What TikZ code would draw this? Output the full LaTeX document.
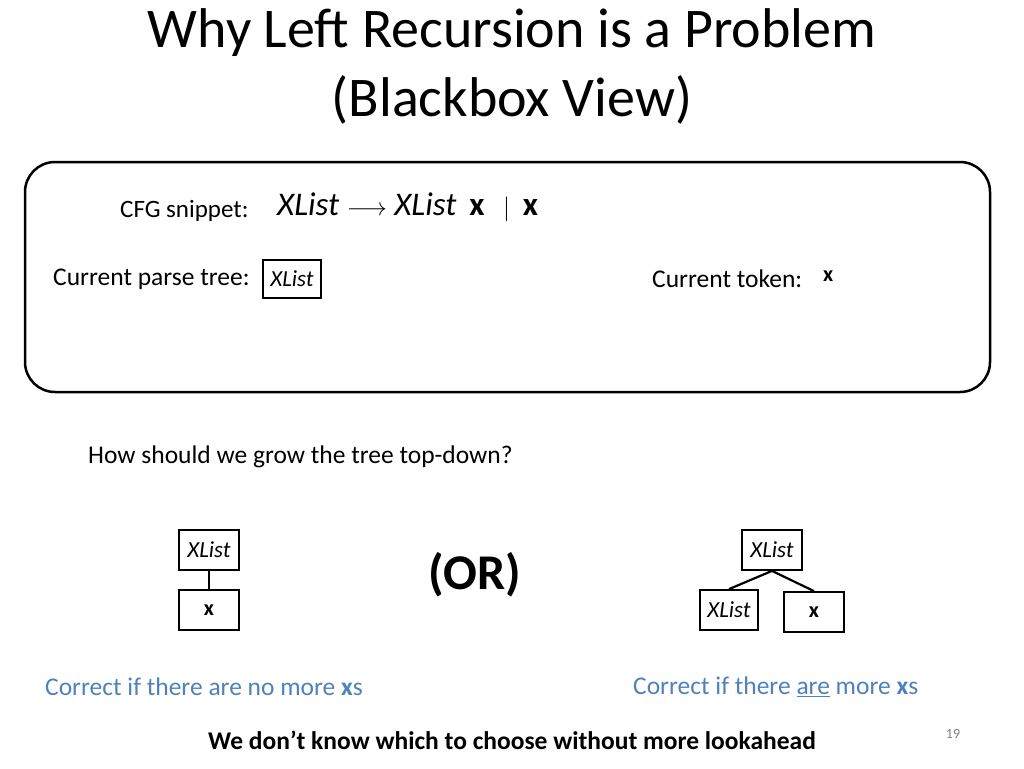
\documentclass[tikz,border=0pt]{standalone}
\usepackage{fontspec}
\setmainfont{Carlito}
\usetikzlibrary{positioning}
\definecolor{noteblue}{RGB}{79,129,189}
\tikzset{
  treebox/.style={draw, line width=1.8pt, minimum width=60pt, minimum height=40pt, inner sep=2pt, font=\fontsize{23}{26}\selectfont},
  edge/.style={line width=2.2pt},
  body/.style={font=\fontsize{25.5}{30}\selectfont, inner sep=0pt},
}
\begin{document}
\begin{tikzpicture}[x=1pt,y=-1pt]
\useasboundingbox (0,0) rectangle (1024,768);
% title
\node[font=\fontsize{56}{64}\selectfont] (title1) at (512,33) {Why Left Recursion is a Problem};
\node[font=\fontsize{56}{64}\selectfont] (title2) at (512,100) {(Blackbox View)};
% grammar panel
\draw[line width=2.5pt, rounded corners=30pt] (25,162) rectangle (990,392);
\node[body, anchor=west, font=\fontsize{25}{30}\selectfont] (cfg) at (120,211) {CFG snippet:};
\node[anchor=west, inner sep=0pt, font=\fontsize{33}{38}\selectfont] (rule) at (277,207) {\textit{XList} $\longrightarrow$ \textit{XList}\, \textbf{x}\,\, $\mid$\, \textbf{x}};
\node[body, anchor=west] (ptree) at (53,279) {Current parse tree:};
\node[treebox, minimum width=58pt, minimum height=38pt] (cur) at (292,279) {\textit{XList}};
\node[body, anchor=west] (ctok) at (652,279) {Current token:};
\node[body, anchor=west, font=\fontsize{22}{26}\selectfont\bfseries] (tok) at (823,276) {x};
% question
\node[body, anchor=west] (ask) at (88,457) {How should we grow the tree top-down?};
% left option
\node[treebox] (lroot) at (209,550) {\textit{XList}};
\node[treebox, font=\fontsize{22}{26}\selectfont\bfseries] (lx) at (209,610) {x};
\draw[edge] (lroot) -- (lx);
\node[font=\fontsize{50}{56}\selectfont\bfseries] (or) at (475,575) {(OR)};
% right option
\node[treebox] (rroot) at (772,550) {\textit{XList}};
\node[treebox, minimum width=58pt] (rl) at (729,610) {\textit{XList}};
\node[treebox, font=\fontsize{22}{26}\selectfont\bfseries] (rx) at (814,612) {x};
\draw[edge] (rroot.south) -- (rl.north);
\draw[edge] (rroot.south) -- (rx.north);
% notes
\node[body, anchor=west, text=noteblue] (nl) at (45,687) {Correct if there are no more \textbf{x}s};
\node[body, anchor=west, text=noteblue] (nr) at (633,687) {Correct if there \underline{are} more \textbf{x}s};
\node[body, font=\fontsize{25.5}{30}\selectfont\bfseries] (foot) at (512,740) {We don’t know which to choose without more lookahead};
\node[text=gray, font=\fontsize{14}{16}\selectfont] (page) at (953,734) {19};
\end{tikzpicture}
\end{document}
